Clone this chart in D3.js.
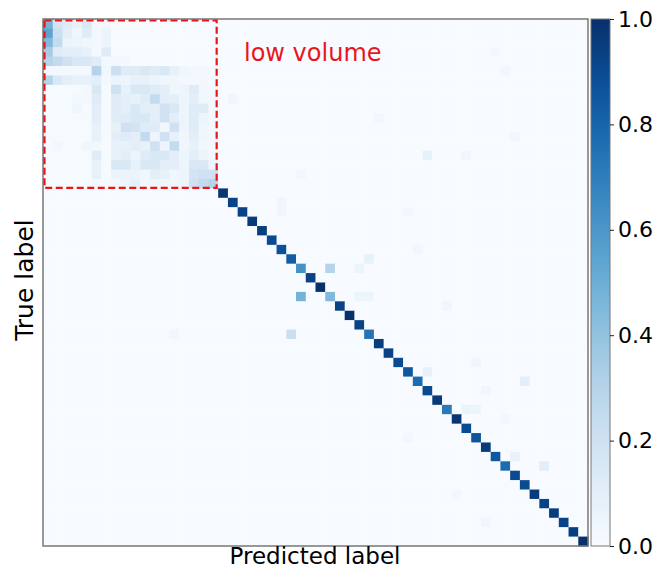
<!DOCTYPE html>
<html>
<head>
<meta charset="utf-8">
<script src="https://cdn.jsdelivr.net/npm/d3@7"></script>
<style>
  html, body { margin: 0; padding: 0; background: #fff; }
  svg { display: block; font-family: "DejaVu Sans", sans-serif; }
</style>
</head>
<body>
<div id="chart"></div>
<script>
// 56 classes, first 18 are the "low volume" ones
const classIds = d3.range(56);
const lowVolumeCount = 18;

// rows = true label, cols = predicted label (low volume block 18x18)
const lowVolumeBlock = [
  [0.48,0.18,0.12,0.08,0.15,0.02,0.03,0,0,0,0,0,0,0,0,0,0,0],
  [0.55,0.22,0.10,0.04,0.12,0.02,0.06,0,0,0,0,0,0,0,0,0,0,0],
  [0.45,0.25,0.06,0.05,0.04,0.02,0.05,0,0,0,0,0,0,0,0,0,0,0],
  [0.35,0.12,0.10,0.10,0.08,0.02,0.12,0,0,0,0,0,0,0,0,0,0,0],
  [0.30,0.25,0.20,0.15,0.15,0.12,0.02,0.02,0.02,0,0,0,0,0,0,0,0,0],
  [0.02,0.02,0.02,0.02,0.02,0.30,0.04,0.22,0.12,0.12,0.15,0.12,0.15,0.08,0.04,0.02,0.02,0.01],
  [0.30,0.15,0.10,0.08,0.08,0.10,0.02,0.06,0.05,0.08,0.08,0.06,0.04,0.04,0.02,0.02,0.02,0.01],
  [0.01,0.01,0.01,0.01,0.02,0.15,0.01,0.20,0.08,0.15,0.15,0.12,0.10,0.04,0.05,0.12,0.03,0.02],
  [0.01,0.01,0.01,0.02,0.02,0.12,0.01,0.12,0.10,0.08,0.12,0.25,0.10,0.10,0.05,0.10,0.04,0.02],
  [0.01,0.01,0.01,0.04,0.01,0.10,0.01,0.12,0.10,0.15,0.10,0.10,0.20,0.15,0.05,0.12,0.12,0.02],
  [0.01,0.01,0.01,0.01,0.01,0.10,0.01,0.12,0.12,0.15,0.15,0.10,0.20,0.10,0.05,0.12,0.05,0.02],
  [0.01,0.01,0.01,0.01,0.01,0.08,0.01,0.08,0.20,0.18,0.12,0.12,0.03,0.20,0.05,0.12,0.04,0.02],
  [0.01,0.01,0.01,0.01,0.01,0.08,0.01,0.10,0.12,0.10,0.25,0.05,0.20,0.08,0.04,0.10,0.04,0.02],
  [0.01,0.03,0.01,0.01,0.04,0.03,0.01,0.08,0.08,0.10,0.08,0.20,0.05,0.25,0.04,0.08,0.03,0.02],
  [0.01,0.01,0.01,0.01,0.01,0.12,0.01,0.08,0.10,0.05,0.12,0.15,0.15,0.10,0.05,0.10,0.05,0.03],
  [0.01,0.01,0.01,0.01,0.01,0.08,0.01,0.15,0.15,0.08,0.15,0.15,0.10,0.10,0.05,0.15,0.15,0.05],
  [0.01,0.01,0.01,0.01,0.01,0.08,0.01,0.06,0.06,0.06,0.04,0.10,0.08,0.04,0.05,0.18,0.20,0.20],
  [0.01,0.01,0.01,0.01,0.01,0.02,0.01,0.03,0.05,0.08,0.03,0.04,0.04,0.04,0.05,0.20,0.25,0.30]
];

// diagonal for classes 18..55
const highVolumeDiagonal = [
  0.98,0.93,0.93,0.96,0.95,0.90,0.88,0.83,0.62,0.93,
  1.00,0.45,0.93,1.00,0.93,0.74,0.95,0.93,0.90,0.85,
  0.77,0.90,0.96,0.72,0.98,0.90,0.86,0.96,0.85,0.77,
  0.90,0.90,0.96,0.93,0.95,0.93,0.95,1.00
];

// [true, predicted, value] for the scattered off-diagonal cells
const offDiagonal = [
  [26,29,0.30],[29,26,0.48],[33,25,0.22],[47,51,0.10],[38,49,0.10],
  [37,39,0.08],[46,48,0.07],[41,43,0.06],[41,44,0.05],[14,39,0.08],
  [25,33,0.08],[26,32,0.05],[29,32,0.05],[29,33,0.05],[19,24,0.04],
  [20,24,0.04],[30,41,0.04],[24,38,0.03],[20,37,0.03],[33,13,0.03],
  [12,48,0.03],[8,19,0.04],[14,43,0.04],[5,47,0.03],[3,46,0.03],
  [42,47,0.03],[44,37,0.03],[50,42,0.03],[36,44,0.04],[10,34,0.03],
  [16,26,0.03],[39,45,0.04],[53,45,0.04]
];

const colorbarTicks = [0, 0.2, 0.4, 0.6, 0.8, 1.0];

// build the full matrix
const matrix = classIds.map(() => classIds.map(() => 0));
lowVolumeBlock.forEach((row, i) => row.forEach((v, j) => { matrix[i][j] = v; }));
highVolumeDiagonal.forEach((v, k) => { matrix[k + lowVolumeCount][k + lowVolumeCount] = v; });
offDiagonal.forEach(([i, j, v]) => { matrix[i][j] = v; });

const cells = [];
matrix.forEach((row, i) => row.forEach((v, j) => cells.push({ t: i, p: j, v: v })));

const width = 656, height = 570;
const svg = d3.select("#chart").append("svg").attr("width", width).attr("height", height);

const x = d3.scaleBand().domain(classIds).range([43, 588]);
const y = d3.scaleBand().domain(classIds).range([19, 546]);
const color = d3.scaleSequential(d3.interpolateBlues).domain([0, 1]);

svg.append("g").selectAll("rect").data(cells).join("rect")
  .attr("x", (d) => x(d.p))
  .attr("y", (d) => y(d.t))
  .attr("width", x.bandwidth() + 0.4)
  .attr("height", y.bandwidth() + 0.4)
  .attr("fill", (d) => color(d.v));

// frame
svg.append("rect").attr("x", 43).attr("y", 19).attr("width", 545).attr("height", 527)
  .attr("fill", "none").attr("stroke", "#777").attr("stroke-width", 1.5);

// low volume box
const boxEnd = lowVolumeCount;
svg.append("rect")
  .attr("x", x(0) + 1.5)
  .attr("y", y(0) + 1.5)
  .attr("width", x(boxEnd) - x(0) - 3)
  .attr("height", y(boxEnd) - y(0) - 2)
  .attr("fill", "none").attr("stroke", "#e8161b").attr("stroke-width", 2.2)
  .attr("stroke-dasharray", "7,3.5");

svg.append("text").attr("x", 244).attr("y", 61)
  .attr("fill", "#e8161b").style("font-size", "24px").text("low volume");

// axis labels
svg.append("text").attr("x", 315).attr("y", 564).attr("text-anchor", "middle")
  .style("font-size", "23px").attr("fill", "#000").text("Predicted label");
svg.append("text").attr("transform", "translate(33,280) rotate(-90)").attr("text-anchor", "middle")
  .style("font-size", "25px").attr("fill", "#000").text("True label");

// colorbar
const cbX = 591, cbW = 19;
const cbScale = d3.scaleLinear().domain([0, 1]).range([546, 19]);
const defs = svg.append("defs");
const grad = defs.append("linearGradient").attr("id", "cbgrad")
  .attr("x1", 0).attr("y1", 1).attr("x2", 0).attr("y2", 0);
d3.range(0, 1.0001, 0.05).forEach((t) => {
  grad.append("stop").attr("offset", t).attr("stop-color", color(t));
});
svg.append("rect").attr("x", cbX).attr("y", 19).attr("width", cbW).attr("height", 527)
  .attr("fill", "url(#cbgrad)").attr("stroke", "#777").attr("stroke-width", 1);

const cbAxis = svg.append("g").attr("transform", `translate(${cbX + cbW},0)`)
  .call(d3.axisRight(cbScale).tickValues(colorbarTicks).tickFormat(d3.format(".1f")).tickSize(4).tickPadding(4));
cbAxis.select(".domain").remove();
cbAxis.selectAll("line").attr("stroke", "#222");
cbAxis.selectAll("text").style("font-size", "22px").style("font-family", "DejaVu Sans").attr("fill", "#000");
</script>
</body>
</html>
